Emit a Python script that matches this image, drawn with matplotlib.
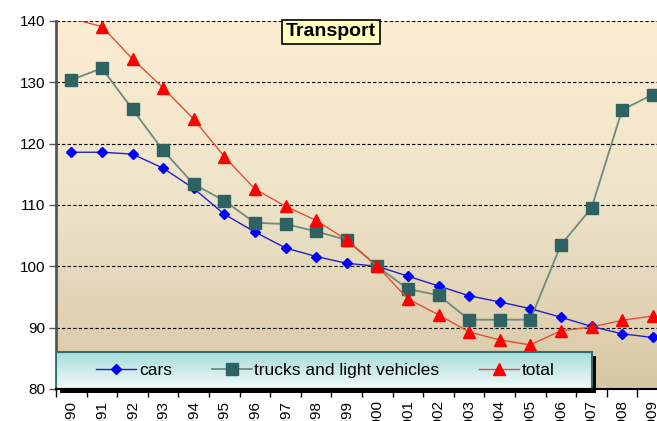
import numpy as np
import matplotlib.pyplot as plt
from matplotlib.colors import LinearSegmentedColormap
from matplotlib.patches import Rectangle

plt.rcParams['font.family'] = ['Liberation Sans', 'DejaVu Sans']

# --- data (index, 2000 = 100) ---
years = [str(y) for y in range(1990, 2010)]
cars = [118.6, 118.6, 118.3, 116.0, 112.7, 108.5, 105.6, 103.0, 101.6, 100.5,
        100.0, 98.4, 96.8, 95.2, 94.2, 93.1, 91.7, 90.2, 89.0, 88.4]
trucks = [130.4, 132.3, 125.6, 118.9, 113.4, 110.7, 107.1, 106.9, 105.7, 104.3,
          100.0, 96.3, 95.3, 91.3, 91.3, 91.3, 103.5, 109.5, 125.5, 128.0]
total = [140.4, 139.1, 133.8, 129.1, 124.0, 117.9, 112.6, 109.8, 107.5, 104.3,
         100.0, 94.7, 92.1, 89.3, 88.0, 87.2, 89.5, 90.1, 91.2, 91.9]
yticks = [80, 90, 100, 110, 120, 130, 140]

fig = plt.figure(figsize=(6.57, 4.21), dpi=100)
ax = fig.add_axes([56/657, 1-389/421, 612/657, 368/421])
x = np.arange(len(years))
ax.set_xlim(-0.5, len(years) - 0.5)
ax.set_ylim(80, 140)

# background gradient
bg = LinearSegmentedColormap.from_list('bg', ['#d8c7a5', '#ede3c8', '#fdedd2'])
ax.imshow(np.linspace(0, 1, 256).reshape(-1, 1), extent=[-0.5, 19.5, 80, 140],
          aspect='auto', cmap=bg, origin='lower', zorder=0)

# grid
for v in yticks[1:]:
    ax.axhline(v, color='black', lw=0.8, ls=(0, (3, 2)), zorder=1)

ax.plot(x, cars, color='#2020c8', lw=1.0, marker='D', ms=5.5,
        mfc='#0000ff', mec='#0000ff', label='cars', zorder=3)
ax.plot(x, trucks, color='#6f8a7e', lw=1.3, marker='s', ms=8,
        mfc='#2f6262', mec='#2f6262', label='trucks and light vehicles', zorder=3)
# first point of total lies above the axis top, its marker is not shown
ax.plot(x, total, color='#e0503a', lw=1.0, marker='^', ms=9,
        markevery=list(range(1, len(years))),
        mfc='#ff0000', mec='#ff0000', label='total', zorder=4)

# legend box with gradient and shadow
lx1 = (592 - 56) / 30.6 - 0.5
ly1 = 140 - (352 - 21) * 60 / 368
sx = 4 / 30.6
sy = 4 * 60 / 368
ax.add_patch(Rectangle((-0.5 + sx, 80 - sy), lx1 + 0.5, ly1 - 80, fc='black',
                       ec='none', zorder=5, clip_on=False))
lg = LinearSegmentedColormap.from_list('lg', ['#f4fbfb', '#a6dcdc'])
ax.imshow(np.linspace(0, 1, 64).reshape(-1, 1), extent=[-0.5, lx1, 80, ly1],
          aspect='auto', cmap=lg, origin='lower', zorder=6)
ax.add_patch(Rectangle((-0.5, 80), lx1 + 0.5, ly1 - 80, fc='none',
                       ec='#2f6f6f', lw=1.5, zorder=7))
leg = ax.legend(loc='center', bbox_to_anchor=((-0.5 + lx1) / 2 + 0.05, (80 + ly1) / 2),
                bbox_transform=ax.transData, ncol=3, frameon=False, fontsize=12.5,
                handlelength=2.3, columnspacing=2.3, handletextpad=0.15)
leg.set_zorder(8)

ax.set_xlim(-0.5, len(years) - 0.5)
ax.set_ylim(80, 140)

# axes
for s in ['top', 'right']:
    ax.spines[s].set_visible(False)
ax.spines['left'].set_color('#555555')
ax.spines['left'].set_linewidth(2)
ax.spines['bottom'].set_color('black')
ax.spines['bottom'].set_linewidth(1.5)
ax.spines['bottom'].set_zorder(9)

ax.set_yticks(yticks)
ax.tick_params(axis='y', labelsize=11, length=5, width=1, color='#555555', pad=3)
ax.set_xticks(x)
ax.set_xticklabels(years, rotation=90, fontsize=11)
ax.set_xticks(np.arange(-0.5, len(years)), minor=True)
ax.tick_params(axis='x', which='major', length=0, pad=8)
ax.tick_params(axis='x', which='minor', length=6, width=1, color='black')

# title box
fig.text(331/657, 1 - 32/421, 'Transport', ha='center', va='center', fontsize=14,
         fontweight='bold',
         bbox=dict(boxstyle='square,pad=0.2', fc='#ffffc0', ec='black', lw=1.2))

fig.savefig('out.png', dpi=100)
